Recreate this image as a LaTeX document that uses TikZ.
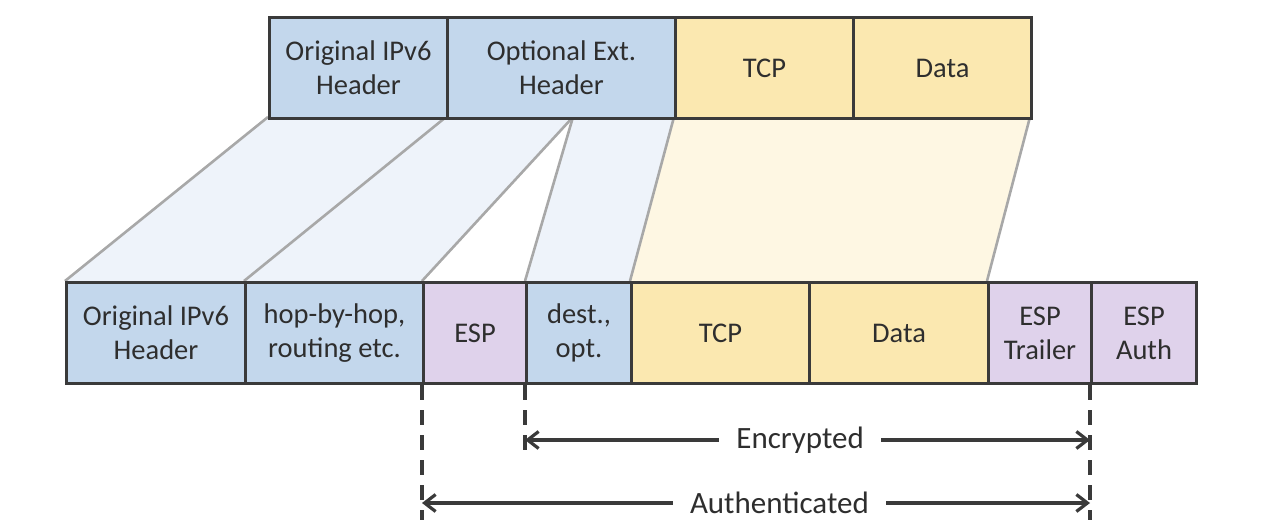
\documentclass[tikz,border=0pt]{standalone}
\usepackage{fontspec}
\setmainfont{Carlito}
\usetikzlibrary{calc,arrows.meta}
\definecolor{boxblue}{HTML}{C3D7EC}
\definecolor{boxyellow}{HTML}{FBE8B0}
\definecolor{boxpurple}{HTML}{DFD2EB}
\definecolor{fadeblue}{HTML}{EEF3FA}
\definecolor{fadeyellow}{HTML}{FEF7E3}
\definecolor{edge}{HTML}{3A3A3A}
\definecolor{txt}{HTML}{2E2E2E}
\definecolor{link}{HTML}{A8A8A8}
\tikzset{
  field/.style={draw=edge, line width=3pt, rectangle, anchor=north west, inner sep=0pt,
    minimum height=101pt, align=center, text=txt,
    font=\fontsize{28.5}{34}\selectfont},
  linkline/.style={draw=link, line width=2.6pt},
  guide/.style={draw=edge, line width=3.2pt, dash pattern=on 15pt off 10pt},
  span/.style={draw=edge, line width=3.2pt, {Straight Barb[length=11pt,width=17pt]}-{Straight Barb[length=11pt,width=17pt]}},
  spanlabel/.style={fill=white, inner xsep=17pt, inner ysep=2pt, text=txt,
    font=\fontsize{31}{36}\selectfont}
}
\begin{document}
\begin{tikzpicture}[x=1pt,y=-1pt]
\useasboundingbox (0,0) rectangle (1264,532);
% coordinates for the mapping regions
\coordinate (t1l) at (268,117);
\coordinate (t2l) at (446,117);
\coordinate (tm)  at (573,117);
\coordinate (t3l) at (674,117);
\coordinate (t4r) at (1030,117);
\coordinate (b1l) at (65,281);
\coordinate (b2l) at (244,281);
\coordinate (b3l) at (422,281);
\coordinate (b4l) at (525,281);
\coordinate (b5l) at (630,281);
\coordinate (b7l) at (987,281);
% fills
\fill[fadeblue] (t1l) -- (tm) -- (b3l) -- (b1l) -- cycle;
\fill[fadeblue] (tm) -- (t3l) -- (b5l) -- (b4l) -- cycle;
\fill[fadeyellow] (t3l) -- (t4r) -- (b7l) -- (b5l) -- cycle;
% links
\draw[linkline] (t1l) -- (b1l);
\draw[linkline] (t2l) -- (b2l);
\draw[linkline] (tm) -- (b3l);
\draw[linkline] (tm) -- (b4l);
\draw[linkline] (t3l) -- (b5l);
\draw[linkline] (t4r) -- (b7l);
% top row
\node[field, fill=boxblue, minimum width=178pt] (t1) at (268,16) {Original IPv6\\Header};
\node[field, fill=boxblue, minimum width=228pt] (t2) at (446,16) {Optional Ext.\\Header};
\node[field, fill=boxyellow, minimum width=178pt] (t3) at (674,16) {TCP};
\node[field, fill=boxyellow, minimum width=178pt] (t4) at (852,16) {Data};
% bottom row
\node[field, fill=boxblue, minimum width=179pt] (b1) at (65,281) {Original IPv6\\Header};
\node[field, fill=boxblue, minimum width=178pt] (b2) at (244,281) {hop-by-hop,\\routing etc.};
\node[field, fill=boxpurple, minimum width=103pt] (b3) at (422,281) {ESP};
\node[field, fill=boxblue, minimum width=105pt] (b4) at (525,281) {dest.,\\opt.};
\node[field, fill=boxyellow, minimum width=178pt] (b5) at (630,281) {TCP};
\node[field, fill=boxyellow, minimum width=179pt] (b6) at (808,281) {Data};
\node[field, fill=boxpurple, minimum width=103pt] (b7) at (987,281) {ESP\\Trailer};
\node[field, fill=boxpurple, minimum width=105pt] (b8) at (1090,281) {ESP\\Auth};
% guides
\coordinate (g1) at (422,520);
\coordinate (g2) at (525,456);
\coordinate (g3) at (1090,520);
\draw[guide] (b3.south west) -- (g1);
\draw[guide] (b4.south west) -- (g2);
\draw[guide] (b8.south west) -- (g3);
% spans
\coordinate (e1) at (525,440);
\coordinate (e2) at (1090,440);
\coordinate (a1) at (422,503);
\coordinate (a2) at (1090,503);
\draw[span] (e1) -- node[spanlabel, pos=0.487] (enc) {Encrypted} (e2);
\draw[span] (a1) -- node[spanlabel, pos=0.535] (auth) {Authenticated} (a2);
\end{tikzpicture}
\end{document}
